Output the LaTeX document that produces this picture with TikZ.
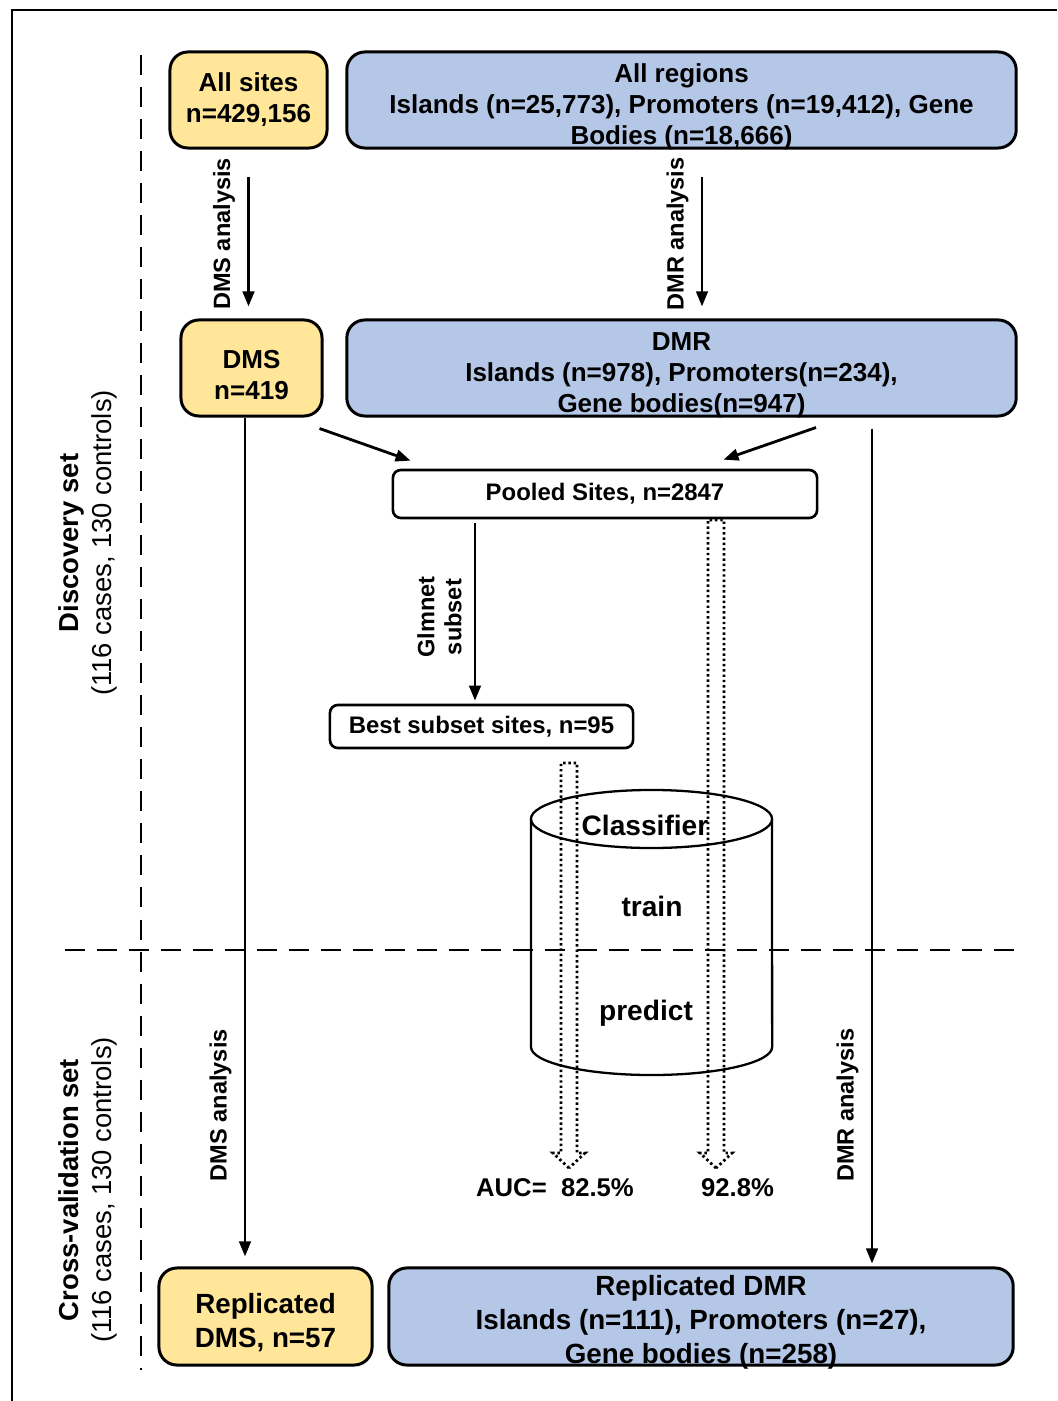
\documentclass[tikz,border=0pt]{standalone}
\usepackage{fontspec}
\setmainfont{Liberation Sans}
\usepackage{tikz}
\usetikzlibrary{arrows.meta,calc}
\definecolor{sitefill}{HTML}{FFE699}
\definecolor{regionfill}{HTML}{B4C7E7}
\newcommand{\boxsize}{\fontsize{7.4}{8.8}\selectfont}
\newcommand{\repsize}{\fontsize{7.9}{9.6}\selectfont}
\newcommand{\arrsize}{\fontsize{6.7}{7.7}\selectfont}
\newcommand{\setsize}{\fontsize{7.8}{9.4}\selectfont}
\newcommand{\toplift}{\rule{0pt}{3.2mm}}
\tikzset{
  >={Triangle[length=1.5mm,width=1.15mm]},
  site/.style   ={rectangle, rounded corners=1.8mm, draw, line width=0.85pt,
                  fill=sitefill, inner sep=0pt, font=\boxsize\bfseries, align=center},
  region/.style ={site, fill=regionfill, inner ysep=-1mm},
  plain/.style  ={rectangle, rounded corners=0.8mm, draw, line width=0.75pt,
                  inner sep=0pt, font=\fontsize{6.8}{8}\selectfont\bfseries, align=center},
  con/.style    ={->, draw, line width=0.8pt},
  lbl/.style    ={font=\arrsize\bfseries, rotate=90, anchor=south, inner sep=1.2mm, align=center},
  hollow/.style ={draw, line width=0.8pt, dash pattern=on 0.7pt off 0.8pt},
  divider/.style={draw, line width=0.6pt, dash pattern=on 2mm off 1.2mm},
  setlbl/.style ={rotate=90, font=\setsize, align=center},
  cyl/.style    ={draw, line width=0.65pt},
  cyltxt/.style ={font=\fontsize{8}{9}\selectfont\bfseries},
  auc/.style    ={font=\fontsize{7.3}{9}\selectfont\bfseries},
}
\begin{document}
\begin{tikzpicture}[x=0.01cm,y=-0.01cm]
\useasboundingbox (0,0) rectangle (1057,1401);
\draw[line width=0.45pt] (12,1401) -- (12,10) -- (1057,10);
\draw[divider] (141,55) -- (141,1370);
\draw[divider] (65,950) -- (1018,950);

\node[setlbl] (disc) at (88,543)  {\textbf{Discovery set}\\(116 cases, 130 controls)};
\node[setlbl] (cv)   at (88,1190) {\textbf{Cross-validation set}\\(116 cases, 130 controls)};

\node[site, minimum width=1.57cm, minimum height=0.96cm]   (allsites) at (248.5,100) {All sites\\n=429,156};
\node[region, minimum width=6.69cm, minimum height=0.96cm] (allreg)   at (681.5,100) {\toplift All regions\\Islands (n=25,773), Promoters (n=19,412), Gene\\Bodies (n=18,666)};
\node[site, minimum width=1.41cm, minimum height=0.96cm]   (dms)      at (251.5,368) {\toplift DMS\\n=419};
\node[region, minimum width=6.69cm, minimum height=0.96cm] (dmr)      at (681.5,368) {\toplift DMR\\Islands (n=978), Promoters(n=234),\\Gene bodies(n=947)};
\node[plain, minimum width=4.24cm, minimum height=0.48cm]  (pooled)   at (605,494)   {Pooled Sites, n=2847};
\node[plain, minimum width=3.03cm, minimum height=0.43cm]  (best)     at (481.5,726.5) {Best subset sites, n=95};
\node[site, font=\repsize\bfseries, minimum width=2.13cm, minimum height=0.97cm]   (repdms) at (265.5,1316.5) {\toplift Replicated\\DMS, n=57};
\node[region, font=\repsize\bfseries, minimum width=6.24cm, minimum height=0.97cm] (repdmr) at (701,1316.5) {\toplift Replicated DMR\\Islands (n=111), Promoters (n=27),\\Gene bodies (n=258)};

\coordinate (dmsleg)  at (245,0);
\coordinate (dmrleg)  at (702,0);
\coordinate (dmrlong) at (872,0);
\coordinate (glmleg)  at (475,0);

\draw[con, shorten <=2.7mm, shorten >=1.2mm] (allsites.south) -- (allsites.south |- dms.north) node[lbl, midway] {DMS analysis};
\draw[con, shorten <=2.7mm, shorten >=1.2mm] (allreg.south -| dmrleg) -- (dmr.north -| dmrleg) node[lbl, midway] {DMR analysis};
\draw[con] ([shift={(-4,11)}]dms.south east) -- ([shift={(19,-8)}]pooled.north west);
\draw[con] ([shift={(134.5,10)}]dmr.south) -- ([shift={(-95,-9)}]pooled.north east);
\draw[con, shorten <=0.4mm, shorten >=0.3mm] (pooled.south -| glmleg) -- (best.north -| glmleg) node[lbl, pos=0.53] {Glmnet\\subset};
\draw[con, shorten >=1mm] (dms.south -| dmsleg) -- (repdms.north -| dmsleg) node[lbl, pos=0.81] {DMS analysis};
\draw[con, shorten <=1.1mm, shorten >=0.3mm] (dmr.south -| dmrlong) -- (repdmr.north -| dmrlong) node[lbl, pos=0.81] {DMR analysis};

\draw[cyl] (651.5,819) ellipse [x radius=1.205cm, y radius=0.29cm];
\draw[cyl] (531,819) -- (531,1047) arc[start angle=180, end angle=360, x radius=1.205cm, y radius=0.28cm] -- (772,819);
\node[cyltxt] (clf)     at (645,825)  {Classifier};
\node[cyltxt] (train)   at (652,906)  {train};
\node[cyltxt] (predict) at (646,1013) {predict};

\coordinate (auca-top) at (569,763);
\coordinate (auca-tip) at (569,1168);
\coordinate (aucb-top) at (716,520);
\coordinate (aucb-tip) at (716,1168);
\foreach \a in {auca,aucb}
  \draw[hollow] (\a-tip) -- ++(-16,-15) -- ++(8,0) -- ($(\a-top)+(-8,0)$) -- ($(\a-top)+(8,0)$)
    -- ($(\a-tip)+(8,-15)$) -- ++(8,0) -- cycle;
\node[auc] (auca) at (555,1188)   {AUC=\ \ 82.5\%};
\node[auc] (aucb) at (737.5,1188) {92.8\%};
\end{tikzpicture}
\end{document}
